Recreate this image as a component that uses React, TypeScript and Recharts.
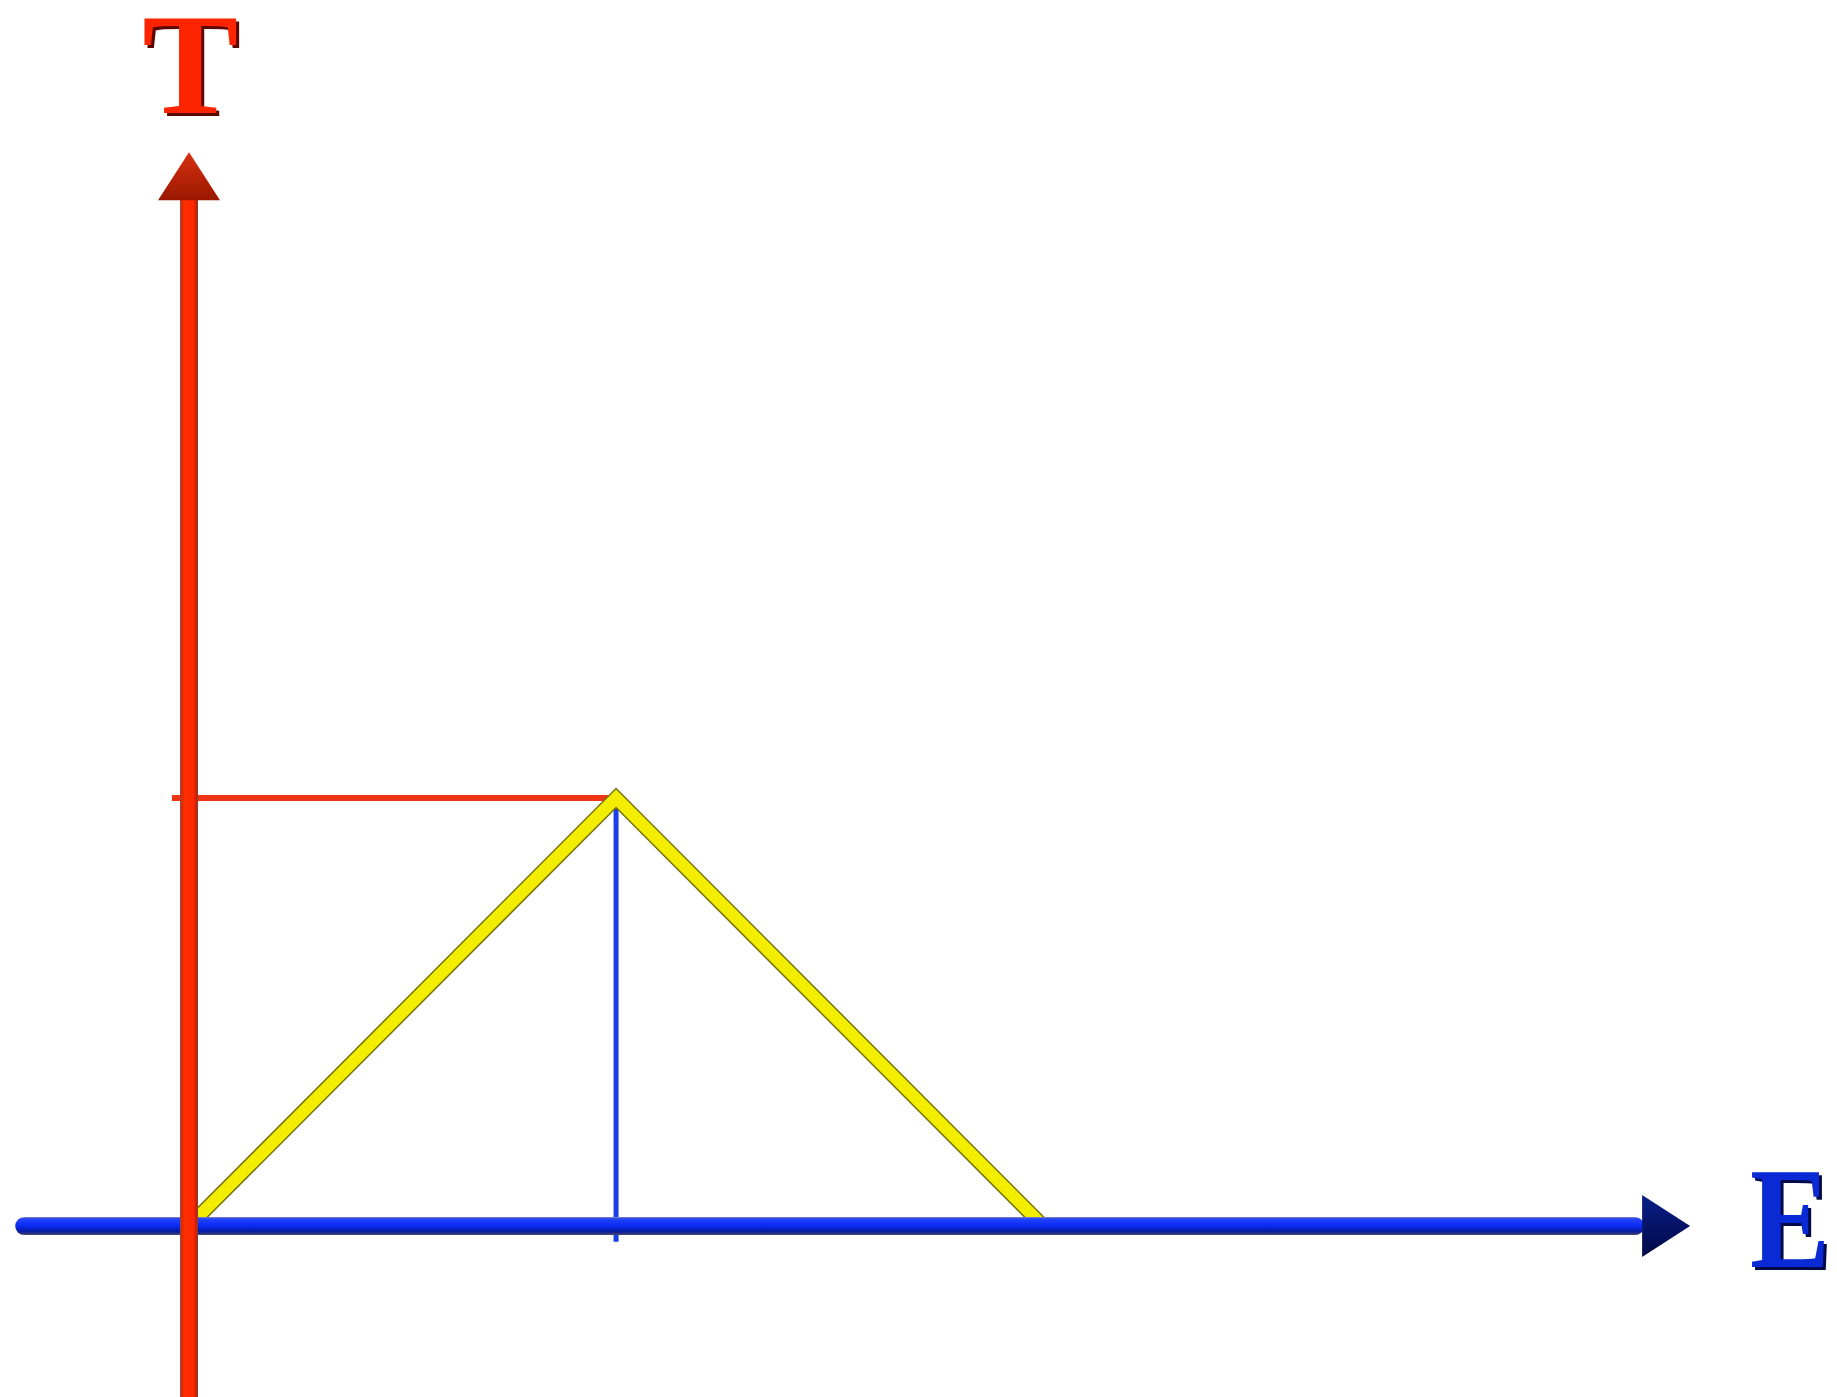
import React from 'react';
import { LineChart, Line, XAxis, YAxis, ReferenceLine, ReferenceDot } from 'recharts';

// triangle: T rises linearly with E up to the peak, then falls back to zero
const energy = [0, 1, 2];
const temperature = [0, 1, 0];
const peakE = 1;
const peakT = 1;

const data = energy.map((e, i) => ({ E: e, T: temperature[i] }));

const W = 1837;
const H = 1397;

const xDomain = [-0.4426, 3.859];
const yDomain = [-0.3995, 2.8645];

const ARROW = 48;
const ARROW_HALF = 31;

const HorizontalAxis = (props: any) => {
    const { x1, y1, x2 } = props;
    const t = 18;
    return (
        <g>
            <rect x={x1} y={y1 - t / 2} width={x2 - ARROW - x1 + 2} height={t} rx={t / 2} fill="url(#blueTube)" />
            <polygon
                points={`${x2 - ARROW},${y1 - ARROW_HALF} ${x2},${y1} ${x2 - ARROW},${y1 + ARROW_HALF}`}
                fill="url(#navyHead)"
            />
        </g>
    );
};

const VerticalAxis = (props: any) => {
    const { x1, y1, y2 } = props;
    const t = 18;
    const top = Math.min(y1, y2);
    const bottom = Math.max(y1, y2);
    return (
        <g>
            <rect x={x1 - t / 2} y={top + ARROW - 2} width={t} height={bottom - top - ARROW + 2} fill="url(#redTube)" />
            <polygon
                points={`${x1 - ARROW_HALF},${top + ARROW} ${x1},${top} ${x1 + ARROW_HALF},${top + ARROW}`}
                fill="url(#redHead)"
            />
        </g>
    );
};

const letter = (txt: string, fill: string, shadow: string, anchor: 'middle' | 'start', len?: number) => (props: any) => {
    const { cx, cy } = props;
    const common: any = {
        fontFamily: '"Liberation Serif", "DejaVu Serif", serif',
        fontWeight: 700,
        fontSize: 144,
        textAnchor: anchor,
    };
    if (len) {
        common.textLength = len;
        common.lengthAdjust = 'spacingAndGlyphs';
    }
    return (
        <g>
            <text x={cx + 3} y={cy + 3} fill={shadow} {...common}>{txt}</text>
            <text x={cx} y={cy} fill={fill} {...common}>{txt}</text>
        </g>
    );
};

const App: React.FC = () => (
    <div style={{ position: 'absolute', left: 0, top: 0, width: W, height: H, background: '#fff' }}>
        <LineChart width={W} height={H} data={data} margin={{ top: 0, right: 0, bottom: 0, left: 0 }}>
            <defs>
                <linearGradient id="blueTube" x1="0" y1="0" x2="0" y2="1">
                    <stop offset="0%" stopColor="#8a8aa8" />
                    <stop offset="10%" stopColor="#2244ff" />
                    <stop offset="50%" stopColor="#0a2af2" />
                    <stop offset="82%" stopColor="#061a9a" />
                    <stop offset="100%" stopColor="#4a4a6a" />
                </linearGradient>
                <linearGradient id="navyHead" x1="0" y1="0" x2="0" y2="1">
                    <stop offset="0%" stopColor="#0a1f8a" />
                    <stop offset="100%" stopColor="#000844" />
                </linearGradient>
                <linearGradient id="redTube" x1="0" y1="0" x2="1" y2="0">
                    <stop offset="0%" stopColor="#8a5048" />
                    <stop offset="10%" stopColor="#e02800" />
                    <stop offset="28%" stopColor="#ff3000" />
                    <stop offset="75%" stopColor="#ff2800" />
                    <stop offset="90%" stopColor="#cc1c00" />
                    <stop offset="100%" stopColor="#7a4a40" />
                </linearGradient>
                <linearGradient id="redHead" x1="0" y1="0" x2="0" y2="1">
                    <stop offset="0%" stopColor="#d83010" />
                    <stop offset="100%" stopColor="#9a1800" />
                </linearGradient>
            </defs>
            <XAxis type="number" dataKey="E" domain={xDomain} allowDataOverflow hide />
            <YAxis type="number" dataKey="T" domain={yDomain} allowDataOverflow hide />

            <ReferenceLine
                segment={[{ x: -0.04, y: peakT }, { x: peakE, y: peakT }]}
                stroke="#ee3516"
                strokeWidth={6}
                ifOverflow="visible"
            />
            <ReferenceLine
                segment={[{ x: peakE, y: peakT }, { x: peakE, y: -0.037 }]}
                stroke="#1a3ee8"
                strokeWidth={5}
                ifOverflow="visible"
            />

            <Line
                dataKey="T"
                stroke="#77720a"
                strokeWidth={15}
                dot={false}
                activeDot={false}
                isAnimationActive={false}
                strokeLinejoin="miter"
            />
            <Line
                dataKey="T"
                stroke="#f3ee00"
                strokeWidth={12}
                dot={false}
                activeDot={false}
                isAnimationActive={false}
                strokeLinejoin="miter"
            />

            <ReferenceLine
                segment={[{ x: -0.407, y: 0 }, { x: 3.515, y: 0 }]}
                ifOverflow="visible"
                shape={HorizontalAxis}
            />
            <ReferenceLine
                segment={[{ x: 0, y: -0.4 }, { x: 0, y: 2.509 }]}
                ifOverflow="visible"
                shape={VerticalAxis}
            />

            <ReferenceDot x={0.003} y={2.6} r={0} ifOverflow="visible" shape={letter('T', '#ff2400', '#5a0800', 'middle')} />
            <ReferenceDot x={3.655} y={-0.096} r={0} ifOverflow="visible" shape={letter('E', '#0a2ad6', '#000a48', 'start', 80)} />
        </LineChart>
    </div>
);

export default App;
